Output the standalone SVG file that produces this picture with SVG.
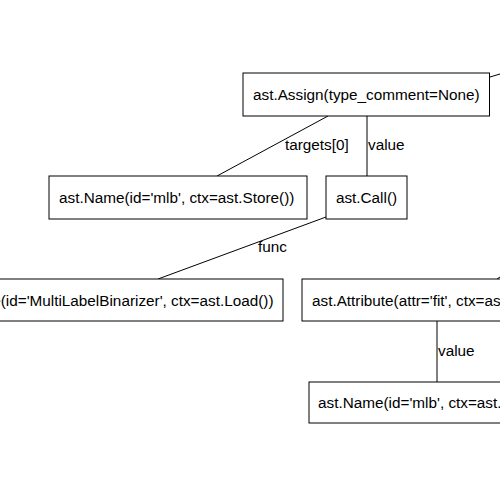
<svg xmlns="http://www.w3.org/2000/svg" width="500" height="500" viewBox="0 0 500 500">
<style>
rect{fill:#fff;stroke:#000;stroke-width:1}
text{font-family:"Liberation Sans",Arial,sans-serif;font-size:15.3px;fill:#000}
.c line{stroke:#000;stroke-width:1}
</style>
<rect x="0" y="0" width="500" height="500" style="stroke:none"/>
<g class="c" id="connectors">
<line x1="490" y1="77" x2="500" y2="74"/>
<line x1="328" y1="116" x2="217" y2="176"/>
<line x1="367" y1="116" x2="367" y2="176"/>
<line x1="326" y1="217" x2="158" y2="279"/>
<line x1="497" y1="279" x2="500" y2="277"/>
<line x1="437" y1="321" x2="437" y2="382"/>
<text x="285" y="150">targets[0]</text>
<text x="368" y="150">value</text>
<text x="258" y="252">func</text>
<text x="438" y="356">value</text>
</g>
<g id="assign"><rect x="243" y="73" width="246.5" height="43"/><text x="253" y="100">ast.Assign(type_comment=None)</text></g>
<g id="name1"><rect x="49" y="176" width="258" height="43"/><text x="59" y="203">ast.Name(id='mlb', ctx=ast.Store())</text></g>
<g id="call"><rect x="326" y="176" width="81" height="43"/><text x="366.5" y="203" text-anchor="middle">ast.Call()</text></g>
<g id="name2"><rect x="-120" y="279" width="403" height="42"/><text x="273.5" y="306" text-anchor="end">ast.Name(id='MultiLabelBinarizer', ctx=ast.Load())</text></g>
<g id="attr"><rect x="302" y="279" width="260" height="42"/><text x="312" y="306">ast.Attribute(attr='fit', ctx=ast.Load())</text></g>
<g id="name3"><rect x="309" y="382" width="260" height="41"/><text x="318" y="408">ast.Name(id='mlb', ctx=ast.Load())</text></g>
</svg>
